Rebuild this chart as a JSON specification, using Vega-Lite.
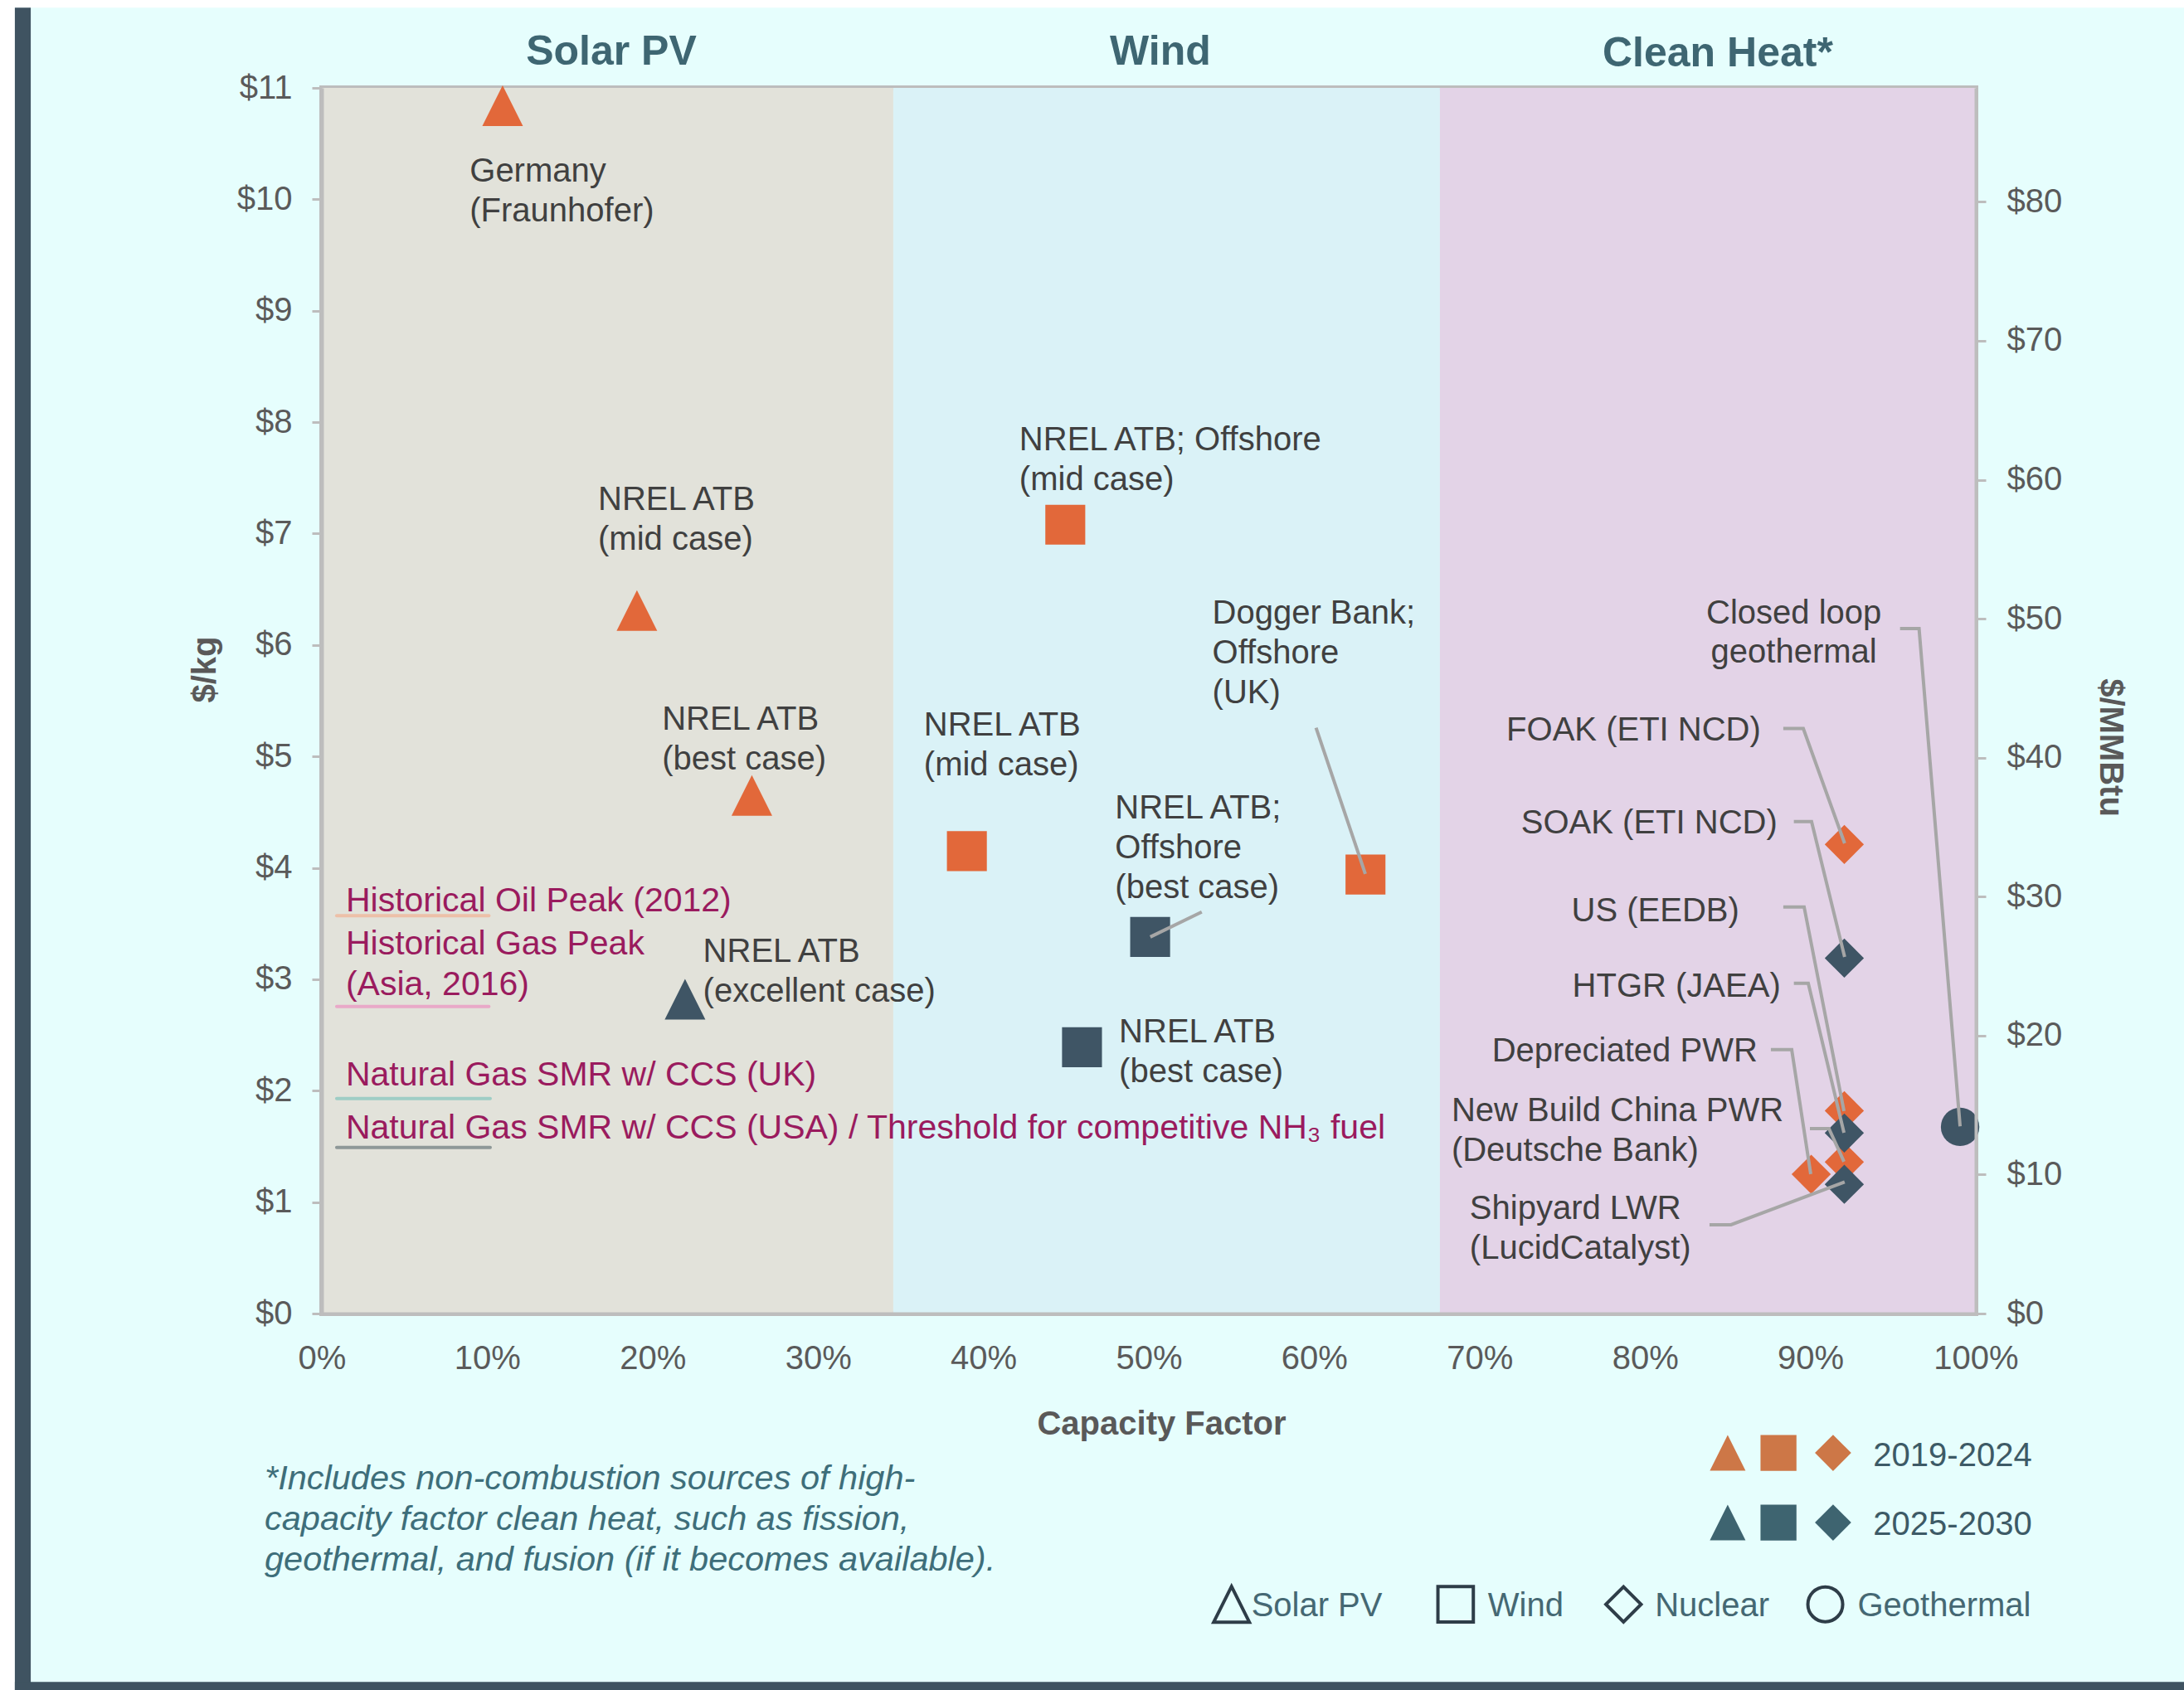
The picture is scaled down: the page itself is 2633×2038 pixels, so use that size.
{
  "$schema": "https://vega.github.io/schema/vega-lite/v6.json",
  "width": 1994,
  "height": 1478,
  "autosize": {"type": "none"},
  "padding": {"left": 388, "top": 106, "right": 251, "bottom": 454},
  "background": "#E6FEFD",
  "config": {
    "font": "Liberation Sans",
    "view": {"stroke": "#BDBDBD", "strokeWidth": 6},
    "legend": {"disable": true}
  },
  "datasets": {
    "bands": [
      {"band": "Solar PV", "cf": 0, "cf2": 34.55},
      {"band": "Wind", "cf": 34.55, "cf2": 67.6},
      {"band": "Clean Heat", "cf": 67.6, "cf2": 100}
    ],
    "refLines": [
      {"kind": "Historical Oil Peak", "cf": 0.9, "cf2": 10.1, "cost": 3.57},
      {"kind": "Historical Gas Peak", "cf": 0.9, "cf2": 10.1, "cost": 2.755},
      {"kind": "SMR CCS UK", "cf": 0.9, "cf2": 10.18, "cost": 1.929},
      {"kind": "SMR CCS USA", "cf": 0.9, "cf2": 10.18, "cost": 1.49}
    ],
    "points": [
      {"tech": "Solar PV", "period": "2019-2024", "cf": 10.93, "cost": 10.84},
      {"tech": "Solar PV", "period": "2019-2024", "cf": 19.05, "cost": 6.31},
      {"tech": "Solar PV", "period": "2019-2024", "cf": 26.0, "cost": 4.65},
      {"tech": "Wind", "period": "2019-2024", "cf": 44.95, "cost": 7.08},
      {"tech": "Wind", "period": "2019-2024", "cf": 39.0, "cost": 4.15},
      {"tech": "Wind", "period": "2019-2024", "cf": 63.1, "cost": 3.94},
      {"tech": "Nuclear", "period": "2019-2024", "cf": 92.05, "cost": 4.21},
      {"tech": "Nuclear", "period": "2019-2024", "cf": 92.05, "cost": 1.82},
      {"tech": "Nuclear", "period": "2019-2024", "cf": 92.05, "cost": 1.36},
      {"tech": "Nuclear", "period": "2019-2024", "cf": 90.05, "cost": 1.25},
      {"tech": "Solar PV", "period": "2025-2030", "cf": 21.96, "cost": 2.82},
      {"tech": "Wind", "period": "2025-2030", "cf": 50.08, "cost": 3.38},
      {"tech": "Wind", "period": "2025-2030", "cf": 45.96, "cost": 2.39},
      {"tech": "Nuclear", "period": "2025-2030", "cf": 92.05, "cost": 3.19},
      {"tech": "Nuclear", "period": "2025-2030", "cf": 92.05, "cost": 1.62},
      {"tech": "Nuclear", "period": "2025-2030", "cf": 92.05, "cost": 1.16},
      {"tech": "Geothermal", "period": "2025-2030", "cf": 99.05, "cost": 1.675}
    ],
    "leaders": [
      {"g": "dogger", "o": 1, "cf": 60.11, "cost": 5.258},
      {"g": "dogger", "o": 2, "cf": 63.09, "cost": 3.946},
      {"g": "offbest", "o": 1, "cf": 53.2, "cost": 3.604},
      {"g": "offbest", "o": 2, "cf": 50.09, "cost": 3.38},
      {"g": "geo", "o": 1, "cf": 95.42, "cost": 6.147},
      {"g": "geo", "o": 2, "cf": 96.57, "cost": 6.147},
      {"g": "geo", "o": 3, "cf": 99.05, "cost": 1.68},
      {"g": "foak", "o": 1, "cf": 88.36, "cost": 5.25},
      {"g": "foak", "o": 2, "cf": 89.57, "cost": 5.25},
      {"g": "foak", "o": 3, "cf": 92.07, "cost": 4.22},
      {"g": "soak", "o": 1, "cf": 89.0, "cost": 4.415},
      {"g": "soak", "o": 2, "cf": 90.07, "cost": 4.415},
      {"g": "soak", "o": 3, "cf": 92.07, "cost": 3.2},
      {"g": "us", "o": 1, "cf": 88.36, "cost": 3.649},
      {"g": "us", "o": 2, "cf": 89.62, "cost": 3.649},
      {"g": "us", "o": 3, "cf": 92.03, "cost": 1.817},
      {"g": "htgr", "o": 1, "cf": 89.0, "cost": 2.964},
      {"g": "htgr", "o": 2, "cf": 89.87, "cost": 2.964},
      {"g": "htgr", "o": 3, "cf": 92.03, "cost": 1.623},
      {"g": "dep", "o": 1, "cf": 87.61, "cost": 2.368},
      {"g": "dep", "o": 2, "cf": 88.87, "cost": 2.368},
      {"g": "dep", "o": 3, "cf": 90.02, "cost": 1.251},
      {"g": "china", "o": 1, "cf": 89.97, "cost": 1.66},
      {"g": "china", "o": 2, "cf": 91.12, "cost": 1.66},
      {"g": "china", "o": 3, "cf": 92.03, "cost": 1.363},
      {"g": "ship", "o": 1, "cf": 83.9, "cost": 0.797},
      {"g": "ship", "o": 2, "cf": 85.2, "cost": 0.797},
      {"g": "ship", "o": 3, "cf": 92.07, "cost": 1.18}
    ],
    "labelsLeft": [
      {"label": "Germany\n(Fraunhofer)", "cf": 8.94, "cost": 10.16},
      {"label": "NREL ATB\n(mid case)", "cf": 16.7, "cost": 7.215},
      {"label": "NREL ATB\n(best case)", "cf": 20.57, "cost": 5.24},
      {"label": "NREL ATB\n(excellent case)", "cf": 23.05, "cost": 3.157},
      {"label": "NREL ATB; Offshore\n(mid case)", "cf": 42.17, "cost": 7.747},
      {"label": "NREL ATB\n(mid case)", "cf": 36.4, "cost": 5.186},
      {"label": "Dogger Bank;\nOffshore\n(UK)", "cf": 53.84, "cost": 6.19},
      {"label": "NREL ATB;\nOffshore\n(best case)", "cf": 47.96, "cost": 4.44},
      {"label": "NREL ATB\n(best case)", "cf": 48.2, "cost": 2.43},
      {"label": "New Build China PWR\n(Deutsche Bank)", "cf": 68.3, "cost": 1.724},
      {"label": "Shipyard LWR\n(LucidCatalyst)", "cf": 69.4, "cost": 0.85}
    ],
    "labelsRight": [
      {"label": "FOAK (ETI NCD)", "cf": 87.0, "cost": 5.145},
      {"label": "SOAK (ETI NCD)", "cf": 88.0, "cost": 4.31},
      {"label": "US (EEDB)", "cf": 85.7, "cost": 3.52},
      {"label": "HTGR  (JAEA)", "cf": 88.2, "cost": 2.84},
      {"label": "Depreciated PWR", "cf": 86.8, "cost": 2.26}
    ],
    "labelsCenter": [
      {"label": "Closed loop\ngeothermal", "cf": 89.0, "cost": 6.19}
    ],
    "refLabels": [
      {"label": "Historical Oil Peak (2012)", "cf": 1.45, "cost": 3.61},
      {"label": "Historical Gas Peak\n(Asia, 2016)", "cf": 1.45, "cost": 3.22},
      {"label": "Natural Gas SMR w/ CCS (UK)", "cf": 1.45, "cost": 2.05},
      {"label": "Natural Gas SMR w/ CCS (USA) / Threshold for competitive NH₃ fuel", "cf": 1.45, "cost": 1.57}
    ],
    "sections": [
      {"label": "Solar PV", "cf": 17.5, "cost": 11.21},
      {"label": "Wind", "cf": 50.7, "cost": 11.21},
      {"label": "Clean Heat*", "cf": 84.4, "cost": 11.19}
    ],
    "footnote": [
      {"label": "*Includes non-combustion sources of high-\ncapacity factor clean heat, such as fission,\ngeothermal, and fusion (if it becomes available).", "cf": -3.46, "cost": -1.579}
    ],
    "periodLegend": [
      {"tech": "Solar PV", "period": "2019-2024", "cf": 85.0, "cost": -1.251},
      {"tech": "Wind", "period": "2019-2024", "cf": 88.07, "cost": -1.251},
      {"tech": "Nuclear", "period": "2019-2024", "cf": 91.37, "cost": -1.251},
      {"tech": "Solar PV", "period": "2025-2030", "cf": 85.0, "cost": -1.876},
      {"tech": "Wind", "period": "2025-2030", "cf": 88.07, "cost": -1.876},
      {"tech": "Nuclear", "period": "2025-2030", "cf": 91.37, "cost": -1.876}
    ],
    "periodLabels": [
      {"label": "2019-2024", "cf": 93.8, "cost": -1.37},
      {"label": "2025-2030", "cf": 93.8, "cost": -1.988}
    ],
    "techLegend": [
      {"tech": "Solar PV", "cf": 55.0, "cost": -2.61},
      {"tech": "Wind", "cf": 68.55, "cost": -2.61},
      {"tech": "Nuclear", "cf": 78.7, "cost": -2.61},
      {"tech": "Geothermal", "cf": 90.9, "cost": -2.61}
    ],
    "techLabels": [
      {"label": "Solar PV", "cf": 56.2, "cost": -2.718},
      {"label": "Wind", "cf": 70.5, "cost": -2.718},
      {"label": "Nuclear", "cf": 80.6, "cost": -2.718},
      {"label": "Geothermal", "cf": 92.85, "cost": -2.718}
    ],
    "mmbtu": [{"mmbtu": 0}, {"mmbtu": 88.2}]
  },
  "layer": [
    {
      "layer": [
        {
          "data": {"name": "bands"},
          "mark": {"type": "rect"},
          "encoding": {
            "x": {"field": "cf", "type": "quantitative"},
            "x2": {"field": "cf2"},
            "color": {"field": "band", "type": "nominal", "scale": {"domain": ["Solar PV", "Wind", "Clean Heat"], "range": ["#E2E2DA", "#DAF2F7", "#E3D3E7"]}, "legend": null}
          }
        },
        {
          "data": {"name": "refLines"},
          "mark": {"type": "rule", "strokeCap": "round"},
          "encoding": {
            "x": {"field": "cf", "type": "quantitative"},
            "x2": {"field": "cf2"},
            "y": {"field": "cost", "type": "quantitative"},
            "color": {"field": "kind", "type": "nominal", "scale": {"domain": ["Historical Oil Peak", "Historical Gas Peak", "SMR CCS UK", "SMR CCS USA"], "range": ["#EDC0A8", "#E9A9C8", "#9ECDC5", "#8E9898"]}, "legend": null},
            "strokeWidth": {"field": "kind", "type": "nominal", "scale": {"domain": ["Historical Oil Peak", "Historical Gas Peak", "SMR CCS UK", "SMR CCS USA"], "range": [4, 4, 6, 6]}, "legend": null}
          }
        },
        {
          "data": {"name": "points"},
          "mark": {"type": "point", "filled": true, "opacity": 1, "strokeWidth": 0},
          "encoding": {
            "x": {
              "field": "cf", "type": "quantitative",
              "scale": {"domain": [0, 100], "nice": false, "zero": false},
              "axis": {
                "title": "Capacity Factor", "values": [0, 10, 20, 30, 40, 50, 60, 70, 80, 90, 100],
                "labelExpr": "datum.value + '%'", "labelFlush": false, "labelOverlap": false,
                "ticks": false, "tickSize": 0, "labelPadding": 34, "labelFontSize": 40, "labelColor": "#5A5A5A",
                "titleFontSize": 40, "titleFontWeight": "bold", "titleColor": "#595959",
                "titleX": 1012, "titleY": 113, "grid": false,
                "domainColor": "#BDBDBD", "domainWidth": 4, "zindex": 1
              }
            },
            "y": {
              "field": "cost", "type": "quantitative",
              "scale": {"domain": [0, 11], "nice": false, "zero": false},
              "axis": {
                "title": "$/kg", "values": [0, 1, 2, 3, 4, 5, 6, 7, 8, 9, 10, 11],
                "labelExpr": "'$' + datum.value", "labelOverlap": false,
                "tickSize": 12, "tickWidth": 3, "tickColor": "#BDBDBD", "labelPadding": 24,
                "labelFontSize": 40, "labelColor": "#5A5A5A",
                "titleFontSize": 40, "titleFontWeight": "bold", "titleColor": "#595959",
                "titleX": -121, "titleY": 701, "grid": false,
                "domainColor": "#BDBDBD", "domainWidth": 4, "zindex": 1
              }
            },
            "shape": {"field": "tech", "type": "nominal", "scale": {"domain": ["Solar PV", "Wind", "Nuclear", "Geothermal"], "range": ["M0,-1L1,1L-1,1Z", "square", "diamond", "circle"]}, "legend": null},
            "color": {"field": "period", "type": "nominal", "scale": {"domain": ["2019-2024", "2025-2030"], "range": ["#E2683A", "#3F5565"]}, "legend": null},
            "size": {"field": "tech", "type": "nominal", "scale": {"domain": ["Solar PV", "Wind", "Nuclear", "Geothermal"], "range": [2400, 2150, 2250, 1800]}, "legend": null}
          }
        },
        {
          "data": {"name": "leaders"},
          "mark": {"type": "line", "color": "#A6A6A6", "strokeWidth": 4},
          "encoding": {
            "x": {"field": "cf", "type": "quantitative"},
            "y": {"field": "cost", "type": "quantitative"},
            "detail": {"field": "g", "type": "nominal"},
            "order": {"field": "o", "type": "quantitative"}
          }
        },
        {
          "data": {"name": "labelsLeft"},
          "mark": {"type": "text", "align": "left", "baseline": "alphabetic", "fontSize": 40, "color": "#404040", "lineBreak": "\n", "lineHeight": 48},
          "encoding": {
            "x": {"field": "cf", "type": "quantitative"},
            "y": {"field": "cost", "type": "quantitative"},
            "text": {"field": "label", "type": "nominal"}
          }
        },
        {
          "data": {"name": "labelsRight"},
          "mark": {"type": "text", "align": "right", "baseline": "alphabetic", "fontSize": 40, "color": "#404040", "lineBreak": "\n", "lineHeight": 48},
          "encoding": {
            "x": {"field": "cf", "type": "quantitative"},
            "y": {"field": "cost", "type": "quantitative"},
            "text": {"field": "label", "type": "nominal"}
          }
        },
        {
          "data": {"name": "labelsCenter"},
          "mark": {"type": "text", "align": "center", "baseline": "alphabetic", "fontSize": 40, "color": "#404040", "lineBreak": "\n", "lineHeight": 47},
          "encoding": {
            "x": {"field": "cf", "type": "quantitative"},
            "y": {"field": "cost", "type": "quantitative"},
            "text": {"field": "label", "type": "nominal"}
          }
        },
        {
          "data": {"name": "refLabels"},
          "mark": {"type": "text", "align": "left", "baseline": "alphabetic", "fontSize": 41, "color": "#9A1B5E", "lineBreak": "\n", "lineHeight": 49},
          "encoding": {
            "x": {"field": "cf", "type": "quantitative"},
            "y": {"field": "cost", "type": "quantitative"},
            "text": {"field": "label", "type": "nominal"}
          }
        },
        {
          "data": {"name": "sections"},
          "mark": {"type": "text", "align": "center", "baseline": "alphabetic", "fontSize": 50, "fontWeight": "bold", "color": "#3E6672"},
          "encoding": {
            "x": {"field": "cf", "type": "quantitative"},
            "y": {"field": "cost", "type": "quantitative"},
            "text": {"field": "label", "type": "nominal"}
          }
        },
        {
          "data": {"name": "footnote"},
          "mark": {"type": "text", "align": "left", "baseline": "alphabetic", "fontSize": 41.5, "fontStyle": "italic", "color": "#3E6E7A", "lineBreak": "\n", "lineHeight": 49},
          "encoding": {
            "x": {"field": "cf", "type": "quantitative"},
            "y": {"field": "cost", "type": "quantitative"},
            "text": {"field": "label", "type": "nominal"}
          }
        },
        {
          "data": {"name": "periodLegend"},
          "mark": {"type": "point", "filled": true, "opacity": 1, "strokeWidth": 0},
          "encoding": {
            "x": {"field": "cf", "type": "quantitative"},
            "y": {"field": "cost", "type": "quantitative"},
            "shape": {"field": "tech", "type": "nominal", "legend": null},
            "color": {"field": "period", "type": "nominal", "scale": {"domain": ["2019-2024", "2025-2030"], "range": ["#CD7747", "#3E6470"]}, "legend": null},
            "size": {"field": "tech", "type": "nominal", "scale": {"domain": ["Solar PV", "Wind", "Nuclear", "Geothermal"], "range": [1850, 1936, 2450, 1500]}, "legend": null}
          }
        },
        {
          "data": {"name": "periodLabels"},
          "mark": {"type": "text", "align": "left", "baseline": "alphabetic", "fontSize": 40, "color": "#3D5A66"},
          "encoding": {
            "x": {"field": "cf", "type": "quantitative"},
            "y": {"field": "cost", "type": "quantitative"},
            "text": {"field": "label", "type": "nominal"}
          }
        },
        {
          "data": {"name": "techLegend"},
          "mark": {"type": "point", "filled": false, "opacity": 1, "stroke": "#2E3D48", "strokeWidth": 4, "fill": null},
          "encoding": {
            "x": {"field": "cf", "type": "quantitative"},
            "y": {"field": "cost", "type": "quantitative"},
            "shape": {"field": "tech", "type": "nominal", "legend": null},
            "size": {"field": "tech", "type": "nominal", "scale": {"domain": ["Solar PV", "Wind", "Nuclear", "Geothermal"], "range": [1850, 1764, 1800, 1300]}, "legend": null}
          }
        },
        {
          "data": {"name": "techLabels"},
          "mark": {"type": "text", "align": "left", "baseline": "alphabetic", "fontSize": 40, "color": "#456873"},
          "encoding": {
            "x": {"field": "cf", "type": "quantitative"},
            "y": {"field": "cost", "type": "quantitative"},
            "text": {"field": "label", "type": "nominal"}
          }
        },
        {
          "data": {"values": [{}]},
          "mark": {"type": "rect", "color": "#FFFFFF"},
          "encoding": {"x": {"datum": -20}, "x2": {"datum": -18.56}, "y": {"datum": -3.6}, "y2": {"datum": 12}}
        },
        {
          "data": {"values": [{}]},
          "mark": {"type": "rect", "color": "#FFFFFF"},
          "encoding": {"x": {"datum": -20}, "x2": {"datum": 114}, "y": {"datum": 11.72}, "y2": {"datum": 12}}
        },
        {
          "data": {"values": [{}]},
          "mark": {"type": "rect", "color": "#3F5361"},
          "encoding": {"x": {"datum": -18.56}, "x2": {"datum": -17.6}, "y": {"datum": -3.6}, "y2": {"datum": 11.72}}
        },
        {
          "data": {"values": [{}]},
          "mark": {"type": "rect", "color": "#3F5361"},
          "encoding": {"x": {"datum": -18.56}, "x2": {"datum": 114}, "y": {"datum": -3.6}, "y2": {"datum": -3.306}}
        }
      ],
      "resolve": {"scale": {"color": "independent", "size": "independent", "strokeWidth": "independent"}}
    },
    {
      "data": {"name": "mmbtu"},
      "mark": {"type": "point", "opacity": 0},
      "encoding": {
        "y": {
          "field": "mmbtu", "type": "quantitative",
          "scale": {"domain": [0, 88.2], "nice": false, "zero": false},
          "axis": {
            "orient": "right", "title": "$/MMBtu", "values": [0, 10, 20, 30, 40, 50, 60, 70, 80],
            "labelExpr": "'$' + datum.value", "labelOverlap": false,
            "tickSize": 12, "tickWidth": 3, "tickColor": "#BDBDBD", "labelPadding": 25,
            "labelFontSize": 40, "labelColor": "#5A5A5A",
            "titleFontSize": 40, "titleFontWeight": "bold", "titleColor": "#595959",
            "titleX": 141, "titleY": 795, "grid": false,
            "domainColor": "#BDBDBD", "domainWidth": 4, "zindex": 1
          }
        }
      }
    }
  ],
  "resolve": {"scale": {"y": "independent"}}
}
